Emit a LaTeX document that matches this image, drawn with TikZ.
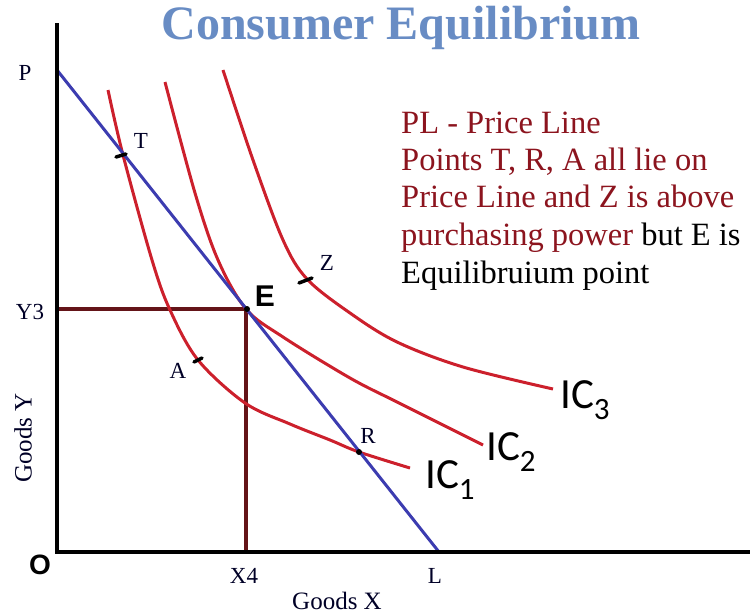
\documentclass[tikz,border=0pt]{standalone}
\usepackage{fontspec}
\setmainfont{Liberation Serif}
\newfontfamily\sansf{Liberation Sans}
\newfontfamily\calib{Carlito}
\definecolor{titleblue}{RGB}{104,140,196}
\definecolor{plblue}{RGB}{60,60,176}
\definecolor{icred}{RGB}{204,32,44}
\definecolor{dropred}{RGB}{100,20,24}
\definecolor{txtred}{RGB}{140,20,30}
\begin{document}
\begin{tikzpicture}[x=1pt,y=-1pt,
  axis/.style={line width=4pt,black},
  icurve/.style={line width=3pt,icred},
  pline/.style={line width=3pt,plblue},
  dropline/.style={line width=3.5pt,dropred},
  tick/.style={line width=3.5pt,black,line cap=round},
  lbl/.style={inner sep=0pt,font=\fontsize{23}{23}\selectfont,text=black!85!blue},
  iclbl/.style={inner sep=0pt,anchor=base west,font=\calib\fontsize{43}{43}\selectfont},
  note/.style={inner sep=0pt,anchor=base west,font=\fontsize{32.5}{32.5}\selectfont,text=txtred}]
\useasboundingbox (0,0) rectangle (750,616);
% title
\node[inner sep=0pt,text=titleblue,font=\bfseries\fontsize{48}{48}\selectfont] (title) at (401,28) {Consumer Equilibrium};
% coordinates
\coordinate (top) at (57,23);
\coordinate (O) at (57,552);
\coordinate (right) at (752,552);
\coordinate (P) at (57,70);
\coordinate (L) at (439,552);
\coordinate (E) at (246,309);
\coordinate (Y3) at (57,309);
\coordinate (X4) at (246,552);
% drop lines
\draw[dropline] (Y3) -- (E) -- (X4);
% indifference curves
\draw[icurve] plot[smooth,tension=0.55] coordinates {(108,90) (123,155) (152,260) (170,310) (198,360) (245,403) (290,424) (330,440) (359,452) (410,468)};
\draw[icurve] plot[smooth,tension=0.55] coordinates {(165,82) (195,193) (218,260) (246,309) (283,337) (350,378) (397,402) (483,445)};
\draw[icurve] plot[smooth,tension=0.55] coordinates {(223,70) (253,160) (283,240) (307,279) (350,313) (397,342) (463,367) (553,389)};
% price line
\draw[pline] (P) -- (L);
% axes
\draw[axis] (top) -- (O) -- (right);
% ticks
\draw[tick] (116,157) -- (126,154);
\draw[tick] (194,362) -- (202,358);
\draw[tick] (299,283) -- (312,278);
\fill[black] (359,452) circle (3pt);
\fill[black] (247,309) circle (3pt);
% point labels
\node[lbl] (lP) at (25,73) {P};
\node[lbl] (lT) at (141,141) {T};
\node[lbl] (lA) at (178,371) {A};
\node[lbl] (lZ) at (327,263) {Z};
\node[lbl] (lR) at (368,436) {R};
\node[inner sep=0pt,font=\sansf\bfseries\fontsize{30}{30}\selectfont] (lE) at (265,296) {E};
\node[lbl] (lY3) at (30,312) {Y3};
\node[lbl] (lX4) at (244,576) {X4};
\node[lbl] (lL) at (435,576) {L};
\node[inner sep=0pt,font=\sansf\bfseries\fontsize{28}{28}\selectfont] (lO) at (40,565) {O};
\node[lbl,font=\fontsize{25}{25}\selectfont] (gx) at (337,601) {Goods X};
\node[lbl,font=\fontsize{25}{25}\selectfont,rotate=90] (gy) at (23,438) {Goods Y};
% IC labels
\node[iclbl] (ic1) at (425,488) {IC\raisebox{-0.26em}{\fontsize{31}{31}\selectfont 1}};
\node[iclbl] (ic2) at (486,460) {IC\raisebox{-0.26em}{\fontsize{31}{31}\selectfont 2}};
\node[iclbl] (ic3) at (560,408) {IC\raisebox{-0.26em}{\fontsize{31}{31}\selectfont 3}};
% note
\node[note] (n1) at (401,133) {PL - Price Line};
\node[note] (n2) at (401,170) {Points T, R, A all lie on};
\node[note] (n3) at (401,207) {Price Line and Z is above};
\node[note] (n4) at (401,245) {purchasing power \textcolor{black}{but E is}};
\node[note,text=black] (n5) at (401,283) {Equilibruium point};
\end{tikzpicture}
\end{document}
